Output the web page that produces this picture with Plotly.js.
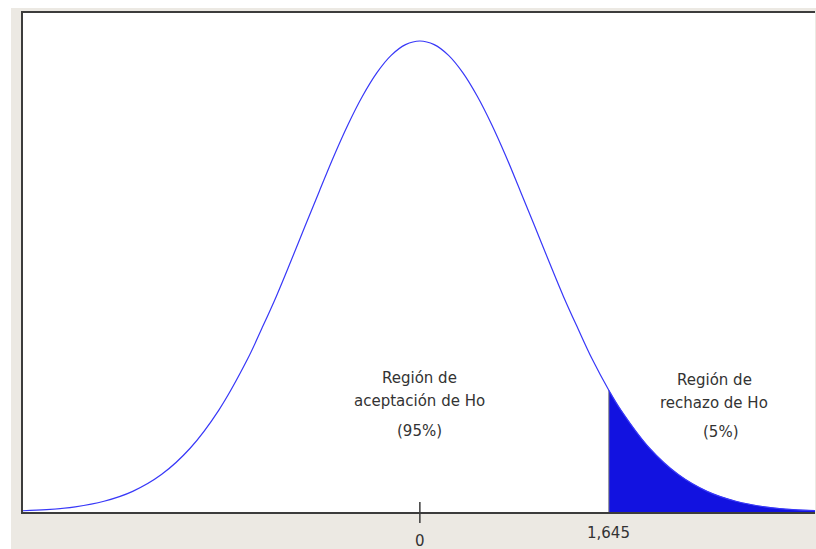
<!DOCTYPE html>
<html>
<head>
<meta charset="utf-8">
<script src="https://cdn.plot.ly/plotly-3.0.1.min.js"></script>
<style>
html,body{margin:0;padding:0;background:#ffffff;width:816px;height:549px;overflow:hidden;}
#chart{position:absolute;left:11px;top:8px;width:805px;height:541px;}
</style>
</head>
<body>
<div id="chart"></div>
<script>
// Curve values (standard normal density)
var curveX = [-3.5,-3.25,-3,-2.75,-2.5,-2.25,-2,-1.75,-1.5,-1.375,-1.25,-1.125,-1,-0.875,-0.75,-0.625,-0.5,-0.375,-0.25,-0.125,0,0.125,0.25,0.375,0.5,0.625,0.75,0.875,1,1.125,1.25,1.375,1.5,1.645,1.75,2,2.25,2.5,2.75,3,3.25,3.5];
var curveY = [0.0009,0.0020,0.0044,0.0091,0.0175,0.0317,0.0540,0.0863,0.1295,0.1556,0.1826,0.2119,0.2420,0.2717,0.3011,0.3282,0.3521,0.3719,0.3867,0.3958,0.3989,0.3958,0.3867,0.3719,0.3521,0.3282,0.3011,0.2717,0.2420,0.2119,0.1826,0.1556,0.1295,0.1031,0.0863,0.0540,0.0317,0.0175,0.0091,0.0044,0.0020,0.0009];
// Rejection region (right tail)
var tailX = [1.645,1.75,2,2.25,2.5,2.75,3,3.25,3.5];
var tailY = [0.1031,0.0863,0.0540,0.0317,0.0175,0.0091,0.0044,0.0020,0.0009];
var critical = 1.645;
var criticalY = 0.1031;
var tickLabels = ["0","1,645"];

var traces = [
  {x: tailX, y: tailY, type:'scatter', mode:'lines', fill:'tozeroy', fillcolor:'#1212E0',
   line:{color:'#1212E0', width:0.5, shape:'spline'}, hoverinfo:'skip'},
  {x: [critical, critical], y: [0, criticalY], type:'scatter', mode:'lines',
   line:{color:'#808080', width:1}, hoverinfo:'skip'},
  {x: curveX, y: curveY, type:'scatter', mode:'lines',
   line:{color:'#3838F8', width:1.2, shape:'spline'}, hoverinfo:'skip'}
];

var txtFont = {family:'DejaVu Sans, Verdana, sans-serif', size:15, color:'#333333'};
var layout = {
  width:805, height:541,
  margin:{l:12, r:1, t:5, b:37},
  paper_bgcolor:'#ECE9E3',
  plot_bgcolor:'#ffffff',
  showlegend:false,
  xaxis:{range:[-3.455,3.44], showgrid:false, zeroline:false, showticklabels:false, ticks:'',
         showline:true, mirror:true, linecolor:'#3c3c3c', linewidth:2, fixedrange:true},
  yaxis:{range:[0,0.4226], showgrid:false, zeroline:false, showticklabels:false, ticks:'',
         showline:true, linecolor:'#3c3c3c', linewidth:2, fixedrange:true},
  shapes:[
    {type:'line', xref:'x', yref:'paper', x0:0, x1:0, y0:-0.022, y1:0.02, line:{color:'#3c3c3c', width:1.5}}
  ],
  annotations:[
    {x:0, y:0, xref:'x', yref:'paper', text:tickLabels[0], showarrow:false, yanchor:'middle', yshift:-29, font:txtFont},
    {x:critical, y:0, xref:'x', yref:'paper', text:tickLabels[1], showarrow:false, yanchor:'middle', yshift:-21, font:txtFont},
    {x:0, y:0, xref:'x', yref:'paper', text:'Región de', showarrow:false, yanchor:'middle', yshift:134, font:txtFont},
    {x:0, y:0, xref:'x', yref:'paper', text:'aceptación de Ho', showarrow:false, yanchor:'middle', yshift:111, font:txtFont},
    {x:0, y:0, xref:'x', yref:'paper', text:'(95%)', showarrow:false, yanchor:'middle', yshift:81, font:txtFont},
    {x:2.565, y:0, xref:'x', yref:'paper', text:'Región de', showarrow:false, yanchor:'middle', yshift:132, font:txtFont},
    {x:2.565, y:0, xref:'x', yref:'paper', text:'rechazo de Ho', showarrow:false, yanchor:'middle', yshift:109, font:txtFont},
    {x:2.62, y:0, xref:'x', yref:'paper', text:'(5%)', showarrow:false, yanchor:'middle', yshift:80, font:txtFont}
  ]
};
Plotly.newPlot('chart', traces, layout, {displayModeBar:false, staticPlot:true});
</script>
</body>
</html>
